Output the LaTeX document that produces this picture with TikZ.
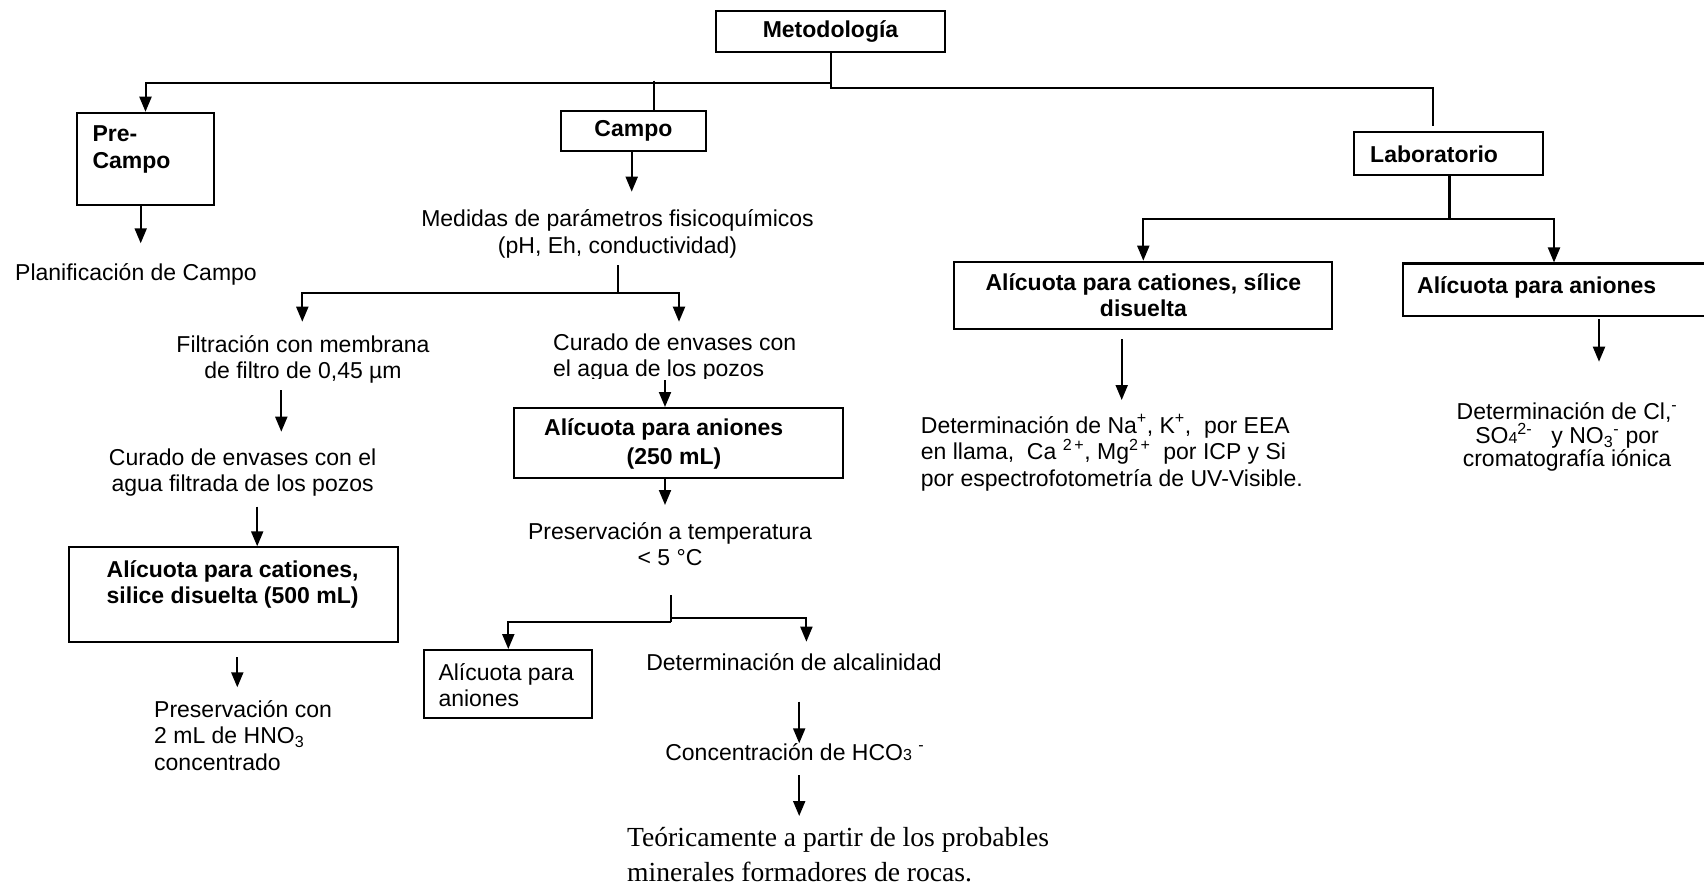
\documentclass[tikz,border=0pt]{standalone}
\usepackage{fontspec}
\setmainfont{Liberation Sans}
\newfontfamily\tms{Liberation Serif}
\usetikzlibrary{arrows.meta}
\begin{document}
\begin{tikzpicture}[x=1pt,y=-1pt,
  every node/.style={inner sep=0pt, font=\fontsize{23}{26.7}\selectfont},
  box/.style={draw, line width=2pt, rectangle},
  ln/.style={line width=2pt},
  thickln/.style={line width=3.5pt},
  arr/.style={line width=2pt, -{Triangle[width=12pt,length=15pt]}},
  bold/.style={font=\fontsize{23}{26.7}\selectfont\bfseries}]
\useasboundingbox (0,0) rectangle (1704,885);

% ---- boxes and texts (base anchor of a multi-line node = last line's baseline)
\node[box, bold, minimum width=229pt, minimum height=41pt] (met) at (830.5,31.5) {Metodología};
\node[box, minimum width=137.6pt, minimum height=92.3pt] (pre) at (145.5,158.9) {};
\node[bold, align=left, anchor=base west] (pret) at (92.3,168.7) {Pre-\\Campo};
\node[box, bold, minimum width=145.3pt, minimum height=40.3pt] (campo) at (633.4,130.9) {Campo};
\node[box, minimum width=188.4pt, minimum height=43.3pt] (lab) at (1448.5,153.4) {};
\node[bold, anchor=base west] (labt) at (1370,163) {Laboratorio};

\node[align=center, anchor=base] (med) at (617.5,253.7) {Medidas de parámetros fisicoquímicos\\(pH, Eh, conductividad)};
\node[anchor=base west] (plan) at (15,280) {Planificación de Campo};
\node[align=center, anchor=base] (filt) at (303,378.7) {Filtración con membrana\\de filtro de 0,45 µm};
\begin{scope}
\clip (540,320) rectangle (830,378);
\node[align=left, anchor=base west] (curR) at (553,376.7) {Curado de envases con\\el agua de los pozos};
\end{scope}
\node[align=center, anchor=base] (curL) at (242.6,491.7) {Curado de envases con el\\agua filtrada de los pozos};
\node[box, minimum width=328.8pt, minimum height=94.4pt] (b500) at (233.3,594.5) {};
\node[bold, align=center, anchor=base] (b500t) at (232.6,603.7) {Alícuota para cationes,\\silice disuelta (500 mL)};
\node[align=left, anchor=base west] (pcon) at (154,770.4) {Preservación con\\2 mL de HNO\textsubscript{3}\\concentrado};
\node[box, minimum width=329pt, minimum height=70pt] (b250) at (678.5,443) {};
\node[bold, anchor=base west] (b250a) at (544,435) {Alícuota para aniones};
\node[bold, anchor=base] (b250b) at (674,464) {(250 mL)};
\node[align=center, anchor=base] (ptemp) at (670,565.7) {Preservación a temperatura\\< 5 °C};
\node[box, minimum width=168pt, minimum height=67.7pt] (bA) at (507.5,683.9) {};
\node[align=left, anchor=base west] (bAt) at (438.3,706.7) {Alícuota para\\aniones};
\node[anchor=base] (alc) at (794,670) {Determinación de alcalinidad};
\node[anchor=base] (hco) at (794.8,760) {Concentración de HCO{\fontsize{16}{16}\selectfont 3} \textsuperscript{-}};
\node[font=\tms\fontsize{27.6}{35}\selectfont, align=left, anchor=base west] (teo) at (627,881) {Teóricamente a partir de los probables\\minerales formadores de rocas.};

\node[box, bold, align=center, minimum width=378pt, minimum height=67.3pt] (cat) at (1143.4,295.3) {Alícuota para cationes, sílice\\disuelta};
\node[box, minimum width=320pt, minimum height=52.5pt, anchor=north west] (an) at (1401.7,262.5) {};
\node[bold, anchor=base west] (ant) at (1417,293) {Alícuota para aniones};
\node[align=left, anchor=base west] (na) at (920.7,486.4) {Determinación de Na\textsuperscript{+}, K\textsuperscript{+},\ \ por EEA\\en llama,\ \ Ca \textsuperscript{2\,+}, Mg\textsuperscript{2\,+}\ \ por ICP y Si\\por espectrofotometría de UV-Visible.};
\node[align=center, anchor=base, font=\fontsize{23}{22.5}\selectfont] (cl) at (1567,466) {Determinación de Cl,\textsuperscript{-}\\SO{\fontsize{16}{16}\selectfont 4}\textsuperscript{2-}\ \ \ y NO\textsubscript{3}\textsuperscript{-} por\\cromatografía iónica};

% ---- coordinates
\coordinate (j0) at (830.5,82.7);
\coordinate (jR) at (830.5,88.3);
\coordinate (labTop) at (1433.3,125.7);
\coordinate (cTop) at (654,80.7);
\coordinate (tMed) at (631.7,191.7);
\coordinate (m1) at (617.7,265);
\coordinate (j1) at (617.7,293.3);
\coordinate (tFilt) at (302.3,321.7);
\coordinate (tCurR) at (679,321.7);
\coordinate (tPlan) at (140.7,243.3);
\coordinate (f1) at (281.3,390);
\coordinate (tCurL) at (281.3,431.7);
\coordinate (c1) at (257.2,506.7);
\coordinate (b1) at (237.3,657);
\coordinate (tPcon) at (237.3,687.3);
\coordinate (r1) at (665,380);
\coordinate (tPt) at (665,505);
\coordinate (p1) at (670.6,595);
\coordinate (j2) at (670.6,622.3);
\coordinate (jA) at (508.3,622.3);
\coordinate (j3) at (670.6,618.3);
\coordinate (tAlc) at (806.4,641.7);
\coordinate (a1) at (799.2,701.7);
\coordinate (tHco) at (799.2,743.3);
\coordinate (h1) at (799.2,775);
\coordinate (tTeo) at (799.2,816);
\coordinate (j4) at (1449.3,219.3);
\coordinate (k1) at (1143.3,219.3);
\coordinate (k2) at (1554,219.3);
\coordinate (n1) at (1121.7,339);
\coordinate (tNa) at (1121.7,400);
\coordinate (l1) at (1599,319.3);
\coordinate (tCl) at (1599,361.7);

% ---- connectors
\draw[ln] (met.south) -- (jR) -| (labTop);
\draw[arr] (j0) -| (pre.north);
\draw[ln] (cTop) -- (cTop |- campo.north);
\draw[arr] (tMed |- campo.south) -- (tMed);
\draw[ln] (m1) -- (j1);
\draw[arr] (j1) -| (tFilt);
\draw[arr] (j1) -| (tCurR);
\draw[arr] (tPlan |- pre.south) -- (tPlan);
\draw[arr] (f1) -- (tCurL);
\draw[arr] (c1) -- (c1 |- b500.north);
\draw[arr] (b1) -- (tPcon);
\draw[arr] (r1) -- (r1 |- b250.north);
\draw[arr] (tPt |- b250.south) -- (tPt);
\draw[ln] (p1) -- (j2);
\draw[arr] (j2) -- (jA) -- (jA |- bA.north);
\draw[arr] (j3) -| (tAlc);
\draw[arr] (a1) -- (tHco);
\draw[arr] (h1) -- (tTeo);
\draw[thickln] (j4 |- lab.south) -- (j4);
\draw[arr] (j4) -- (k1) -- (k1 |- cat.north);
\draw[arr] (j4) -- (k2) -- (k2 |- an.north);
\draw[arr] (n1) -- (tNa);
\draw[arr] (l1) -- (tCl);
\end{tikzpicture}
\end{document}
